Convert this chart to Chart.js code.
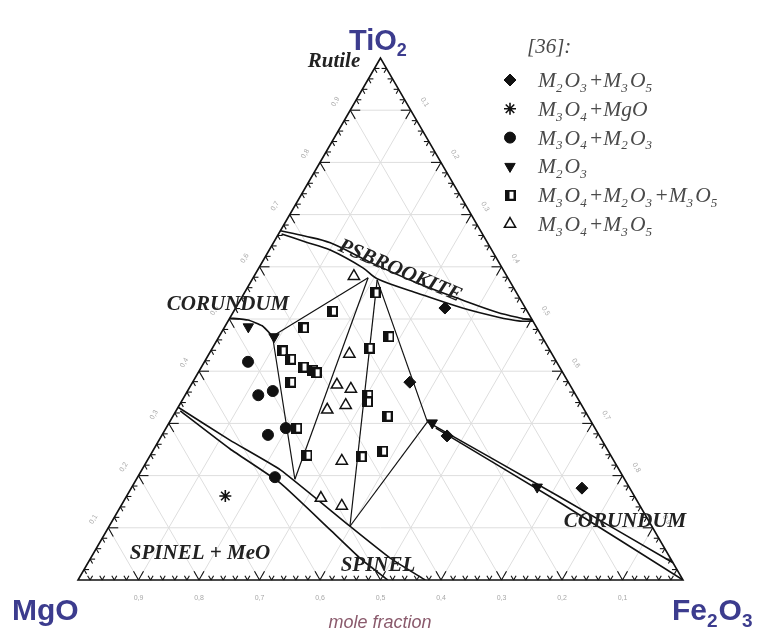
<!DOCTYPE html>
<html>
<head>
<meta charset="utf-8">
<script src="https://cdn.jsdelivr.net/npm/chart.js@4.4.0/dist/chart.umd.min.js"></script>
<style>
  html, body { margin: 0; padding: 0; background: #fff; }
  #wrap { width: 758px; height: 630px; position: relative; }
</style>
</head>
<body>
<div id="wrap"><canvas id="ternary"></canvas></div>
<script>
// compositions are [TiO2, Fe2O3] mole fractions, MgO is whatever is left
const m2o3M3o5 = [[0.521, 0.346], [0.379, 0.359], [0.276, 0.472], [0.176, 0.745]];
const m3o4Mgo = [[0.161, 0.163]];
const m3o4M2o3 = [[0.418, 0.072], [0.354, 0.121], [0.362, 0.141], [0.278, 0.175], [0.291, 0.198], [0.197, 0.227]];
const m2o3Only = [[0.485, 0.039], [0.466, 0.091], [0.301, 0.435], [0.178, 0.670]];
const m3o4M2o3M3o5 = [[0.550, 0.216], [0.515, 0.163], [0.483, 0.131], [0.466, 0.281], [0.444, 0.259],
  [0.439, 0.118], [0.423, 0.140], [0.408, 0.168], [0.402, 0.187], [0.397, 0.195], [0.379, 0.162],
  [0.354, 0.302], [0.341, 0.308], [0.314, 0.354], [0.291, 0.216], [0.239, 0.259], [0.236, 0.350], [0.247, 0.380]];
const m3o4M3o5 = [[0.582, 0.165], [0.433, 0.232], [0.374, 0.241], [0.366, 0.268], [0.335, 0.275],
  [0.326, 0.249], [0.228, 0.322], [0.157, 0.323], [0.142, 0.365]];

// phase field boundaries
const psbUpper = [[0.669, 0.0], [0.659, 0.045], [0.646, 0.094], [0.609, 0.178], [0.569, 0.276],
  [0.536, 0.368], [0.513, 0.436], [0.502, 0.480], [0.498, 0.502]];
const psbLower = [[0.663, 0.005], [0.648, 0.051], [0.632, 0.101], [0.598, 0.172], [0.577, 0.206],
  [0.550, 0.285], [0.521, 0.375], [0.504, 0.441], [0.496, 0.483], [0.496, 0.504]];
const corundumLeft = [[0.502, 0.0], [0.498, 0.032], [0.487, 0.061], [0.467, 0.088]];
const spinelUpper = [[0.331, 0.0], [0.268, 0.117], [0.211, 0.229], [0.103, 0.398], [0.042, 0.495], [0.0, 0.574]];
const spinelLower = [[0.324, 0.007], [0.251, 0.126], [0.186, 0.241], [0.096, 0.369], [0.042, 0.445], [0.0, 0.512]];
const corundumUpper = [[0.303, 0.426], [0.159, 0.717], [0.033, 0.967]];
const corundumLower = [[0.291, 0.446], [0.148, 0.723], [0.0, 1.0]];

// tie-line corners
const cornerC = [0.467, 0.088];
const cornerJ1 = [0.579, 0.190];
const cornerJ2 = [0.575, 0.207];
const cornerS1 = [0.193, 0.262];
const cornerS2 = [0.103, 0.398];
const cornerR = [0.303, 0.426];
const tieLines = [[cornerC, cornerJ1], [cornerC, cornerS1], [cornerS1, cornerJ1],
  [cornerS2, cornerJ2], [cornerS2, cornerR], [cornerJ2, cornerR]];

const tickLabels = ["0,1", "0,2", "0,3", "0,4", "0,5", "0,6", "0,7", "0,8", "0,9"];
const legendLabels = ["M_2O_3+M_3O_5", "M_3O_4+MgO", "M_3O_4+M_2O_3", "M_2O_3", "M_3O_4+M_2O_3+M_3O_5", "M_3O_4+M_3O_5"];

const H = Math.sqrt(3) / 2;
function toXY(p) { return { x: p[1] + p[0] / 2, y: p[0] * H }; }

// half filled square marker
const halfSquare = document.createElement("canvas");
halfSquare.width = 11; halfSquare.height = 11;
(function () {
  const g = halfSquare.getContext("2d");
  g.fillStyle = "#111"; g.fillRect(0, 0, 11, 11);
  g.fillStyle = "#fff"; g.fillRect(5, 2, 4, 7);
})();

const markerStyles = [
  { pointStyle: "rectRot", radius: 6, rotation: 0, backgroundColor: "#111", borderColor: "#111", borderWidth: 1 },
  { pointStyle: "star", radius: 6, rotation: 0, backgroundColor: "#111", borderColor: "#111", borderWidth: 1.6 },
  { pointStyle: "circle", radius: 5.5, rotation: 0, backgroundColor: "#111", borderColor: "#111", borderWidth: 1 },
  { pointStyle: "triangle", radius: 6, rotation: 180, backgroundColor: "#111", borderColor: "#111", borderWidth: 1 },
  { pointStyle: halfSquare, radius: 5.5, rotation: 0, backgroundColor: "#111", borderColor: "#111", borderWidth: 1 },
  { pointStyle: "triangle", radius: 6.5, rotation: 0, backgroundColor: "#fff", borderColor: "#111", borderWidth: 1.5 }
];
const markerSeries = [m2o3M3o5, m3o4Mgo, m3o4M2o3, m2o3Only, m3o4M2o3M3o5, m3o4M3o5];

function lineSet(pts, tension, width) {
  return {
    type: "scatter", data: pts.map(toXY), showLine: true, pointRadius: 0,
    borderColor: "#111", borderWidth: width, tension: tension, order: 2, fill: false
  };
}

const datasets = [];
markerSeries.forEach((s, i) => {
  const st = markerStyles[i];
  datasets.push({
    type: "scatter", data: s.map(toXY), order: 0,
    pointStyle: st.pointStyle, pointRadius: st.radius, pointRotation: st.rotation,
    pointBackgroundColor: st.backgroundColor, pointBorderColor: st.borderColor, pointBorderWidth: st.borderWidth
  });
});
[psbUpper, psbLower].forEach(c => datasets.push(lineSet(c, 0.35, 1.6)));
datasets.push(lineSet(corundumLeft, 0.15, 1.6));
[spinelUpper, spinelLower, corundumUpper, corundumLower].forEach(c => datasets.push(lineSet(c, 0.15, 1.6)));
tieLines.forEach(t => datasets.push(lineSet(t, 0, 1.2)));

// text with single digit subscripts written as _n
function drawRich(ctx, str, x, y, size, family, style, align, subGap) {
  const parts = str.split("_");
  const big = style + " " + size + "px " + family;
  const small = style + " " + Math.round(size * 0.62) + "px " + family;
  const pieces = [{ t: parts[0], sub: false }];
  for (let i = 1; i < parts.length; i++) {
    pieces.push({ t: parts[i][0], sub: true });
    if (parts[i].length > 1) pieces.push({ t: parts[i].slice(1), sub: false });
  }
  let w = 0;
  pieces.forEach(p => { ctx.font = p.sub ? small : big; p.w = ctx.measureText(p.t).width + (p.sub ? (subGap || 1) : 0); w += p.w; });
  let cx = align === "center" ? x - w / 2 : x;
  ctx.textAlign = "left";
  pieces.forEach(p => {
    ctx.font = p.sub ? small : big;
    ctx.fillText(p.t, cx, p.sub ? y + size * 0.22 : y);
    cx += p.w;
  });
}

const ternaryPlugin = {
  id: "ternary",
  beforeDatasetsDraw(chart) {
    const ctx = chart.ctx, xs = chart.scales.x, ys = chart.scales.y;
    const P = (ti, fe) => [xs.getPixelForValue(fe + ti / 2), ys.getPixelForValue(ti * H)];
    const seg = (a, b) => { ctx.beginPath(); ctx.moveTo(a[0], a[1]); ctx.lineTo(b[0], b[1]); ctx.stroke(); };
    ctx.save();
    // grid
    ctx.strokeStyle = "#dedede"; ctx.lineWidth = 1;
    for (let i = 1; i < 10; i++) {
      const v = i / 10;
      seg(P(v, 0), P(v, 1 - v));
      seg(P(0, v), P(1 - v, v));
      seg(P(0, 1 - v), P(1 - v, 0));
    }
    // frame
    ctx.strokeStyle = "#111"; ctx.lineWidth = 1.6;
    ctx.beginPath();
    const a = P(1, 0), b = P(0, 0), c = P(0, 1);
    ctx.moveTo(a[0], a[1]); ctx.lineTo(b[0], b[1]); ctx.lineTo(c[0], c[1]); ctx.closePath(); ctx.stroke();
    // inward ticks along both grid directions
    ctx.lineWidth = 1.1;
    const edges = [
      { at: f => P(f, 0), dirs: [[1, 0], [0.5, H]] },
      { at: f => P(0, f), dirs: [[-0.5, -H], [0.5, -H]] },
      { at: f => P(f, 1 - f), dirs: [[-1, 0], [-0.5, H]] }
    ];
    for (let k = 1; k < 50; k++) {
      const f = k / 50, len = k % 5 === 0 ? 10 : 5;
      edges.forEach(e => {
        const p = e.at(f);
        e.dirs.forEach(d => seg(p, [p[0] + d[0] * len, p[1] + d[1] * len]));
      });
    }
    // tick labels
    ctx.fillStyle = "#a8a8a8"; ctx.font = "7px 'Liberation Sans'";
    ctx.textAlign = "center"; ctx.textBaseline = "middle";
    for (let i = 1; i < 10; i++) {
      const v = i / 10, t = tickLabels[i - 1];
      let p = P(v, 0);
      ctx.save(); ctx.translate(p[0] - 0.866 * 17, p[1] - 0.5 * 17); ctx.rotate(-Math.PI / 3); ctx.fillText(t, 0, 0); ctx.restore();
      p = P(1 - v, v);
      ctx.save(); ctx.translate(p[0] + 0.866 * 16, p[1] - 0.5 * 16); ctx.rotate(Math.PI / 3); ctx.fillText(t, 0, 0); ctx.restore();
      p = P(0, 1 - v);
      ctx.fillText(t, p[0], p[1] + 18);
    }
    ctx.restore();
  },
  afterDatasetsDraw(chart) {
    const ctx = chart.ctx;
    ctx.save();
    ctx.textBaseline = "alphabetic";
    // corner components
    ctx.fillStyle = "#3c3c8e";
    drawRich(ctx, "TiO_2", 349, 50, 29, "'Liberation Sans'", "bold", "left");
    drawRich(ctx, "MgO", 12, 620, 30, "'Liberation Sans'", "bold", "left");
    drawRich(ctx, "Fe_2O_3", 672, 620, 30, "'Liberation Sans'", "bold", "left");
    ctx.fillStyle = "#8a5a6c";
    ctx.font = "italic 18px 'Liberation Sans'"; ctx.textAlign = "center";
    ctx.fillText("mole fraction", 380, 628);

    // phase fields
    ctx.fillStyle = "#222"; ctx.textBaseline = "middle";
    ctx.font = "bold italic 21px 'Liberation Serif'";
    ctx.fillText("Rutile", 334, 62);
    ctx.fillText("CORUNDUM", 228, 305);
    ctx.fillText("SPINEL + MeO", 200, 554);
    ctx.fillText("SPINEL", 378, 566);
    ctx.fillText("CORUNDUM", 625, 522);
    ctx.save(); ctx.translate(400, 271); ctx.rotate(23 * Math.PI / 180);
    ctx.fillText("PSBROOKITE", 0, 0); ctx.restore();

    // legend
    ctx.textBaseline = "alphabetic"; ctx.textAlign = "left";
    ctx.fillStyle = "#4a4a4a";
    ctx.font = "italic 21px 'Liberation Serif'";
    ctx.fillText("[36]:", 527, 53);
    markerStyles.forEach((st, i) => {
      const y = 80 + i * 28.8;
      ctx.fillStyle = st.backgroundColor; ctx.strokeStyle = st.borderColor; ctx.lineWidth = st.borderWidth;
      Chart.helpers.drawPoint(ctx, { pointStyle: st.pointStyle, radius: st.radius, rotation: st.rotation, borderWidth: st.borderWidth }, 510, y);
      ctx.fillStyle = "#4a4a4a";
      drawRich(ctx, legendLabels[i], 538, y + 7, 21.5, "'Liberation Serif'", "italic", "left", 2.2);
    });
    ctx.restore();
  }
};

new Chart(document.getElementById("ternary"), {
  type: "scatter",
  data: { datasets: datasets },
  options: {
    responsive: true,
    maintainAspectRatio: false,
    animation: false,
    events: [],
    layout: { padding: { left: 78, right: 75, top: 58, bottom: 50 } },
    plugins: { legend: { display: false }, tooltip: { enabled: false } },
    scales: {
      x: { type: "linear", min: 0, max: 1, display: false },
      y: { type: "linear", min: 0, max: H, display: false }
    }
  },
  plugins: [ternaryPlugin]
});
</script>
</body>
</html>
